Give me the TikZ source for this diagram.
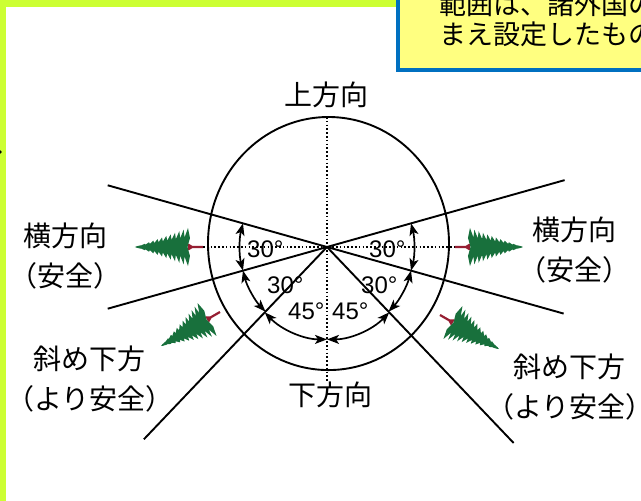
\documentclass[tikz,border=0pt]{standalone}
\usepackage{fontspec}
\setmainfont{Liberation Sans}
\newfontfamily\jpfont{Noto Sans CJK JP}
\usetikzlibrary{arrows.meta}

\definecolor{framegreen}{RGB}{204,255,51}
\definecolor{noteyellow}{RGB}{255,255,128}
\definecolor{noteblue}{RGB}{0,112,192}
\definecolor{firgreen}{RGB}{24,112,60}
\definecolor{stemred}{RGB}{150,30,50}

\tikzset{
  guide/.style={line width=1.6pt, dash pattern=on 1.6pt off 2.2pt},
  sight/.style={line width=1.9pt},
  angarc/.style={line width=1.7pt, {Stealth[length=12pt,width=9pt,inset=3pt]}-{Stealth[length=12pt,width=9pt,inset=3pt]}},
  deg/.style={font=\fontsize{24}{24}\selectfont, anchor=base west, inner sep=0pt},
  dir/.style={font=\jpfont\fontsize{28}{40}\selectfont, align=center, inner sep=0pt},
  % a felled fir, stem at the origin, crown along +x
  fir/.pic={
    \draw[stemred, line width=2.2pt] (0,0) -- (15,0) (11,0) -- (15,2.5) (11,0) -- (15,-2.5);
    \fill[firgreen] (15,-19) -- (13,-9) -- (15.5,0) -- (13,9)
      \foreach \k in {0,...,11}{
        -- ({15+52*\k/12}, {19*(1-\k/12)})
        -- ({15+52*(\k+0.8)/12}, {0.5*19*(1-\k/12)})
      }
      -- (68,0)
      \foreach \k in {11,10,...,0}{
        -- ({15+52*(\k+0.8)/12}, {-0.5*19*(1-\k/12)})
        -- ({15+52*\k/12}, {-19*(1-\k/12)})
      }
      -- cycle;
  }
}

\begin{document}
\begin{tikzpicture}[x=1pt,y=1pt]
  \useasboundingbox (-327,-254) rectangle (314,247);
  \clip (-327,-254) rectangle (314,247);
  \fill[white] (-327,-254) rectangle (314,247);

  % slide frame
  \fill[framegreen] (-327,-254) rectangle (-321,247);
  \fill[framegreen] (-327,240) rectangle (80,247);
  \fill (-327,95) circle (1.8);

  \coordinate (c) at (0,0);
  \coordinate (stemL) at (-124,0);
  \coordinate (stemR) at (128,0);

  \begin{scope}[yscale=1.05]
    \draw[sight] (1.5,3.3) circle (120.5);
    \draw[guide] (0,123.8) -- (0,-127.5);
    % sight lines
    \coordinate (ul) at (165:227);
    \coordinate (lr) at (-15:245);
    \coordinate (ur) at (15:246);
    \coordinate (ll) at (195:227);
    \coordinate (dl) at (225:259);
    \coordinate (dr) at (-45:264);
    \draw[sight] (ul) -- (lr);
    \draw[sight] (ur) -- (ll);
    \draw[sight] (c) -- (dl);
    \draw[sight] (c) -- (dr);
    % angles
    \draw[angarc] (165:87) arc[start angle=165, end angle=195, radius=87];
    \draw[angarc] (-15:87) arc[start angle=-15, end angle=15, radius=87];
    \draw[angarc] (195:87) arc[start angle=195, end angle=225, radius=87];
    \draw[angarc] (-45:87) arc[start angle=-45, end angle=-15, radius=87];
    \draw[angarc] (225:88) arc[start angle=225, end angle=270, radius=88];
    \draw[angarc] (270:88) arc[start angle=270, end angle=315, radius=88];
  \end{scope}
  \draw[guide] (stemL) -- (stemR);

  \node[deg] (aL) at (-80,-10) {30°};
  \node[deg] (aR) at (42,-10) {30°};
  \node[deg] (bL) at (-60,-46) {30°};
  \node[deg] (bR) at (34,-46) {30°};
  \node[deg] (cL) at (-39,-72) {45°};
  \node[deg] (cR) at (5,-72) {45°};

  % felled trees
  \pic[rotate=180] at (stemL) {fir};
  \pic at (stemR) {fir};
  \pic[rotate=210] at (-107,-65) {fir};
  \pic[rotate=-30] at (113,-68) {fir};

  \node[dir] (up) at (0,152) {上方向};
  \node[dir] (down) at (4,-148) {下方向};
  \node[dir] (sideL) at (-261,-9) {横方向\\（安全）};
  \node[dir] (sideR) at (248,-3) {横方向\\（安全）};
  \node[dir] (diagL) at (-237,-132) {斜め下方\\（より安全）};
  \node[dir] (diagR) at (243,-140) {斜め下方\\（より安全）};

  % note box
  \draw[noteblue, line width=4.5pt, fill=noteyellow] (71,177) rectangle (330,270);
  \node[font=\jpfont\fontsize{27}{30}\selectfont, align=left, anchor=south west, inner sep=0pt] (note) at (112,200) {範囲は、諸外国の\\まえ設定したもの};
\end{tikzpicture}
\end{document}
